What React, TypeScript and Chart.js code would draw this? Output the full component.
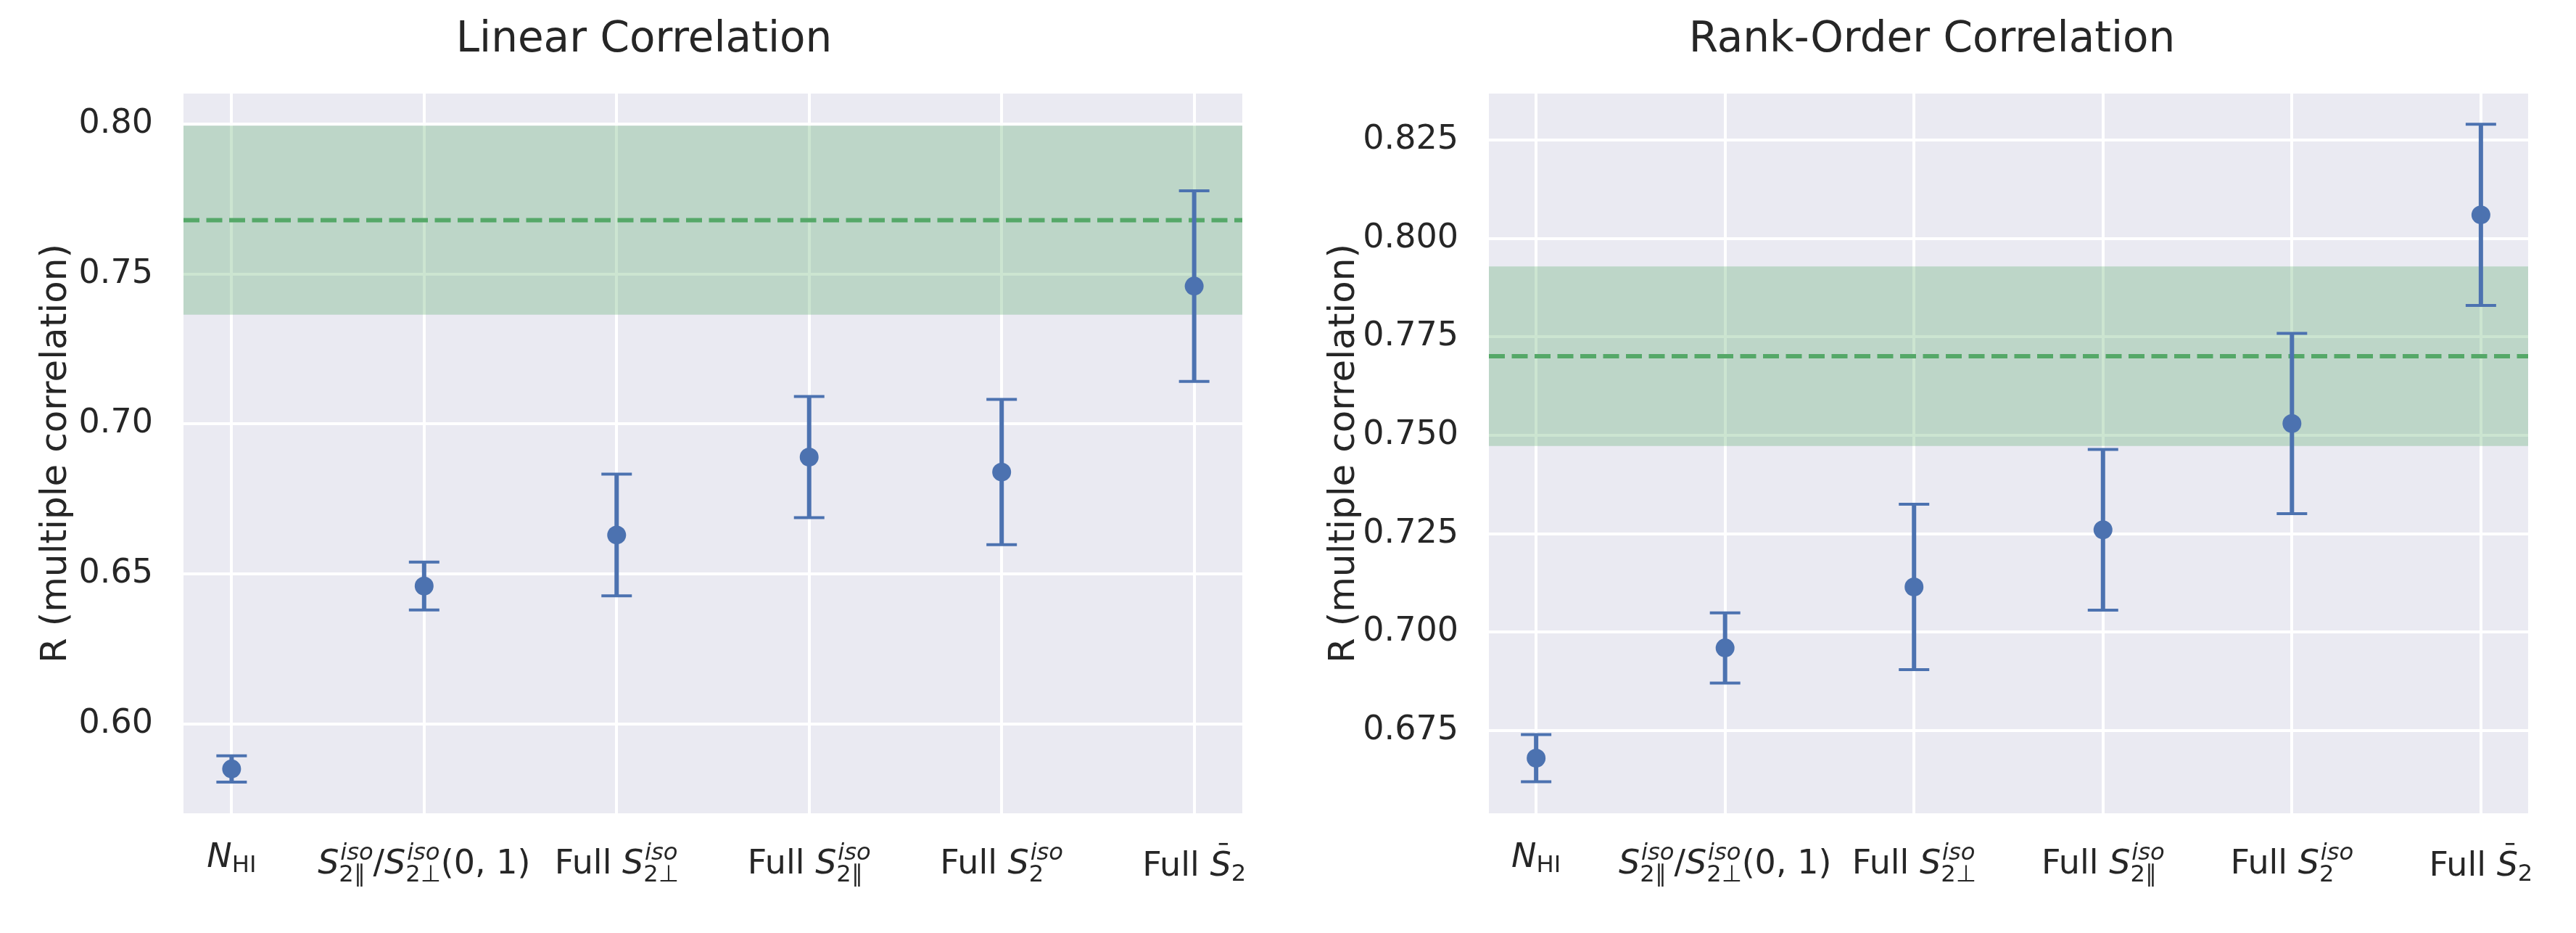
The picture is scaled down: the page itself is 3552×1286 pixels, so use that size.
import { useEffect, useRef } from "react";
import { Chart, registerables } from "chart.js";

Chart.register(...registerables);

// category labels, written in a small TeX-like markup
const categories = [
  "$N_{\\mathrm{HI}}$",
  "$S_{2\\parallel}^{iso}/S_{2\\perp}^{iso}(0, 1)$",
  "Full $S_{2\\perp}^{iso}$",
  "Full $S_{2\\parallel}^{iso}$",
  "Full $S_{2}^{iso}$",
  "Full $\\bar{S}_{2}$",
];

// Linear correlation panel
const linearR = [0.585, 0.646, 0.663, 0.689, 0.684, 0.746];
const linearErr = [0.0044, 0.008, 0.0203, 0.0202, 0.0242, 0.0318];
const linearRef = 0.768;
const linearRefErr = 0.0315;
const linearTicks = ["0.60", "0.65", "0.70", "0.75", "0.80"];

// Rank-order correlation panel
const rankR = [0.668, 0.696, 0.7115, 0.726, 0.753, 0.806];
const rankErr = [0.006, 0.0089, 0.021, 0.0204, 0.0229, 0.023];
const rankRef = 0.7701;
const rankRefErr = 0.0228;
const rankTicks = ["0.675", "0.700", "0.725", "0.750", "0.775", "0.800", "0.825"];

const BLUE = "#4c72b0";
const GREEN = "#55a868";
const TEXT = "#262626";
const FONT = "DejaVu Sans";

const SYMBOLS: any = { parallel: "\u2225", perp: "\u22a5" };

function parseMath(src: string): any[] {
  const atoms: any[] = [];
  let i = 0;
  const readGroup = () => {
    if (src[i] === "{") {
      let depth = 1;
      let j = i + 1;
      while (j < src.length && depth) {
        if (src[j] === "{") depth++;
        else if (src[j] === "}") depth--;
        j++;
      }
      const g = src.slice(i + 1, j - 1);
      i = j;
      return g;
    }
    return src[i++];
  };
  while (i < src.length) {
    const c = src[i];
    if (c === "\\") {
      const m = /^\\([a-zA-Z]+)/.exec(src.slice(i))!;
      i += m[0].length;
      const cmd = m[1];
      if (cmd === "mathrm") atoms.push({ text: readGroup(), italic: false });
      else if (cmd === "bar") {
        const inner = parseMath(readGroup());
        inner[0].bar = true;
        atoms.push(...inner);
      } else atoms.push({ text: SYMBOLS[cmd] ?? cmd, italic: false });
    } else if (c === "_" || c === "^") {
      i++;
      const g = parseMath(readGroup());
      const prev = atoms[atoms.length - 1];
      if (c === "_") prev.sub = g;
      else prev.sup = g;
    } else {
      i++;
      atoms.push({ text: c, italic: /[A-Za-z]/.test(c) });
    }
  }
  return atoms;
}

function parseLabel(label: string) {
  const parts = label.split("$");
  const atoms: any[] = [];
  parts.forEach((p, k) => {
    if (!p) return;
    if (k % 2 === 0) atoms.push({ text: p, italic: false });
    else atoms.push(...parseMath(p));
  });
  return atoms;
}

function layoutAtoms(ctx: CanvasRenderingContext2D, atoms: any[], size: number, x0: number, y0: number, out: any[]): number {
  let x = x0;
  for (const a of atoms) {
    const font = `${a.italic ? "italic " : ""}${size}px "${FONT}"`;
    ctx.font = font;
    const m = ctx.measureText(a.text);
    out.push({ text: a.text, font, x, y: y0, w: m.width, ascent: m.actualBoundingBoxAscent, bar: a.bar, size });
    x += m.width;
    if (a.sub || a.sup) {
      const s = size * 0.7;
      let wSub = 0;
      let wSup = 0;
      if (a.sup) wSup = layoutAtoms(ctx, a.sup, s, x + size * 0.04, y0 - size * 0.42, out) + size * 0.04;
      if (a.sub) wSub = layoutAtoms(ctx, a.sub, s, x, y0 + size * (a.sup ? 0.24 : 0.16), out);
      x += Math.max(wSub, wSup);
    }
  }
  return x - x0;
}

function drawMathLabel(ctx: CanvasRenderingContext2D, label: string, cx: number, top: number, size: number) {
  const runs: any[] = [];
  const width = layoutAtoms(ctx, parseLabel(label), size, 0, 0, runs);
  let ascent = 0;
  runs.forEach((r) => {
    ascent = Math.max(ascent, r.ascent - r.y);
    if (r.bar) ascent = Math.max(ascent, r.size * 1.0 - r.y);
  });
  const ox = cx - width / 2;
  const oy = top + ascent;
  ctx.fillStyle = TEXT;
  ctx.textAlign = "left";
  ctx.textBaseline = "alphabetic";
  runs.forEach((r) => {
    ctx.font = r.font;
    ctx.fillText(r.text, ox + r.x, oy + r.y);
    if (r.bar) {
      ctx.fillRect(ox + r.x + r.w * 0.42, oy + r.y - r.size * 0.98, r.w * 0.42, r.size * 0.06);
    }
  });
}

function Panel({ title, values, errors, refValue, refErr, ticks, yMin, yMax, yWidth, rightWidth }: any) {
  const chartRef = useRef<HTMLCanvasElement>(null);

  useEffect(() => {
    const ctx = chartRef.current!.getContext("2d")!;
    const tickValues = ticks.map((t: string) => Number(t));

    const background = {
      id: "background",
      beforeDraw(chart: any) {
        const { ctx, chartArea } = chart;
        ctx.save();
        ctx.fillStyle = "#ffffff";
        ctx.fillRect(0, 0, chart.width, chart.height);
        ctx.fillStyle = "#eaeaf2";
        ctx.fillRect(chartArea.left, chartArea.top, chartArea.right - chartArea.left, chartArea.bottom - chartArea.top);
        ctx.restore();
      },
    };

    const errorBars = {
      id: "errorBars",
      beforeDatasetDraw(chart: any, args: any) {
        if (args.index !== 0) return;
        const { ctx, scales } = chart;
        ctx.save();
        ctx.strokeStyle = BLUE;
        ctx.lineCap = "butt";
        values.forEach((v: number, i: number) => {
          const x = scales.x.getPixelForValue(i);
          const y1 = scales.y.getPixelForValue(v + errors[i]);
          const y2 = scales.y.getPixelForValue(v - errors[i]);
          ctx.lineWidth = 6;
          ctx.beginPath();
          ctx.moveTo(x, y1);
          ctx.lineTo(x, y2);
          ctx.stroke();
          ctx.lineWidth = 4;
          ctx.beginPath();
          ctx.moveTo(x - 21, y1);
          ctx.lineTo(x + 21, y1);
          ctx.moveTo(x - 21, y2);
          ctx.lineTo(x + 21, y2);
          ctx.stroke();
        });
        ctx.restore();
      },
    };

    const xLabels = {
      id: "xLabels",
      afterDraw(chart: any) {
        const { ctx, scales, chartArea } = chart;
        ctx.save();
        categories.forEach((c, i) => {
          drawMathLabel(ctx, c, scales.x.getPixelForValue(i), chartArea.bottom + 40, 46);
        });
        ctx.restore();
      },
    };

    const span = (y: number) => [
      { x: -0.25, y },
      { x: 5.25, y },
    ];

    const chart = new Chart(ctx, {
      type: "scatter",
      data: {
        datasets: [
          {
            type: "scatter",
            data: values.map((v: number, i: number) => ({ x: i, y: v })),
            backgroundColor: BLUE,
            borderColor: BLUE,
            pointRadius: 13,
            pointBorderWidth: 0,
            order: 0,
          },
          {
            type: "line",
            data: span(refValue),
            borderColor: GREEN,
            borderWidth: 6,
            borderDash: [22, 9.5],
            pointRadius: 0,
            fill: false,
            order: 1,
          },
          {
            type: "line",
            data: span(refValue + refErr),
            borderColor: "rgba(0,0,0,0)",
            borderWidth: 1,
            pointRadius: 0,
            fill: "+1",
            backgroundColor: "rgba(85,168,104,0.3)",
            order: 2,
          },
          {
            type: "line",
            data: span(refValue - refErr),
            borderColor: "rgba(0,0,0,0)",
            borderWidth: 1,
            pointRadius: 0,
            fill: false,
            order: 3,
          },
        ],
      } as any,
      options: {
        animation: false,
        responsive: true,
        maintainAspectRatio: false,
        layout: { padding: 0 },
        plugins: {
          legend: { display: false },
          tooltip: { enabled: false },
          title: {
            display: true,
            text: title,
            color: TEXT,
            font: { family: FONT, size: 58, weight: "normal" },
            padding: { top: 21, bottom: 38.4 },
          },
        },
        scales: {
          x: {
            type: "linear",
            min: -0.25,
            max: 5.25,
            afterBuildTicks: (s: any) => {
              s.ticks = categories.map((_, i) => ({ value: i }));
            },
            ticks: { display: false },
            grid: { color: "#ffffff", lineWidth: 4, drawTicks: false },
            border: { display: false },
            afterFit: (s: any) => {
              s.height = 165;
            },
          },
          y: {
            type: "linear",
            min: yMin,
            max: yMax,
            afterBuildTicks: (s: any) => {
              s.ticks = tickValues.map((v: number) => ({ value: v }));
            },
            ticks: {
              color: TEXT,
              font: { family: FONT, size: 46 },
              padding: 42,
              callback: (v: any) => {
                const k = tickValues.findIndex((t: number) => Math.abs(t - v) < 1e-9);
                return k >= 0 ? ticks[k] : "";
              },
            },
            grid: { color: "#ffffff", lineWidth: 4, drawTicks: false },
            border: { display: false },
            title: {
              display: true,
              text: "R (multiple correlation)",
              color: TEXT,
              font: { family: FONT, size: 50 },
              padding: { top: 48, bottom: 0 },
            },
            afterFit: (s: any) => {
              s.width = yWidth;
            },
          },
          // empty right-hand box so the chart area ends where the reference does
          yRight: {
            type: "linear",
            position: "right",
            display: true,
            ticks: { display: false },
            grid: { display: false, drawTicks: false },
            border: { display: false },
            afterFit: (s: any) => {
              s.width = rightWidth;
            },
          },
        },
      } as any,
      plugins: [background, errorBars, xLabels],
    });

    return () => {
      chart.destroy();
    };
  }, [title, values, errors, refValue, refErr, ticks, yMin, yMax, yWidth, rightWidth]);

  return (
    <div style={{ position: "relative", width: 1776, height: 1286 }}>
      <canvas ref={chartRef}></canvas>
    </div>
  );
}

export default function App() {
  return (
    <div style={{ position: "absolute", left: 0, top: 0, width: 3552, height: 1286, display: "flex", background: "#fff" }}>
      <Panel
        title="Linear Correlation"
        values={linearR}
        errors={linearErr}
        refValue={linearRef}
        refErr={linearRefErr}
        ticks={linearTicks}
        yMin={0.5702}
        yMax={0.8102}
        yWidth={253}
        rightWidth={63}
      />
      <Panel
        title="Rank-Order Correlation"
        values={rankR}
        errors={rankErr}
        refValue={rankRef}
        refErr={rankRefErr}
        ticks={rankTicks}
        yMin={0.654}
        yMax={0.8368}
        yWidth={277}
        rightWidth={66}
      />
    </div>
  );
}
